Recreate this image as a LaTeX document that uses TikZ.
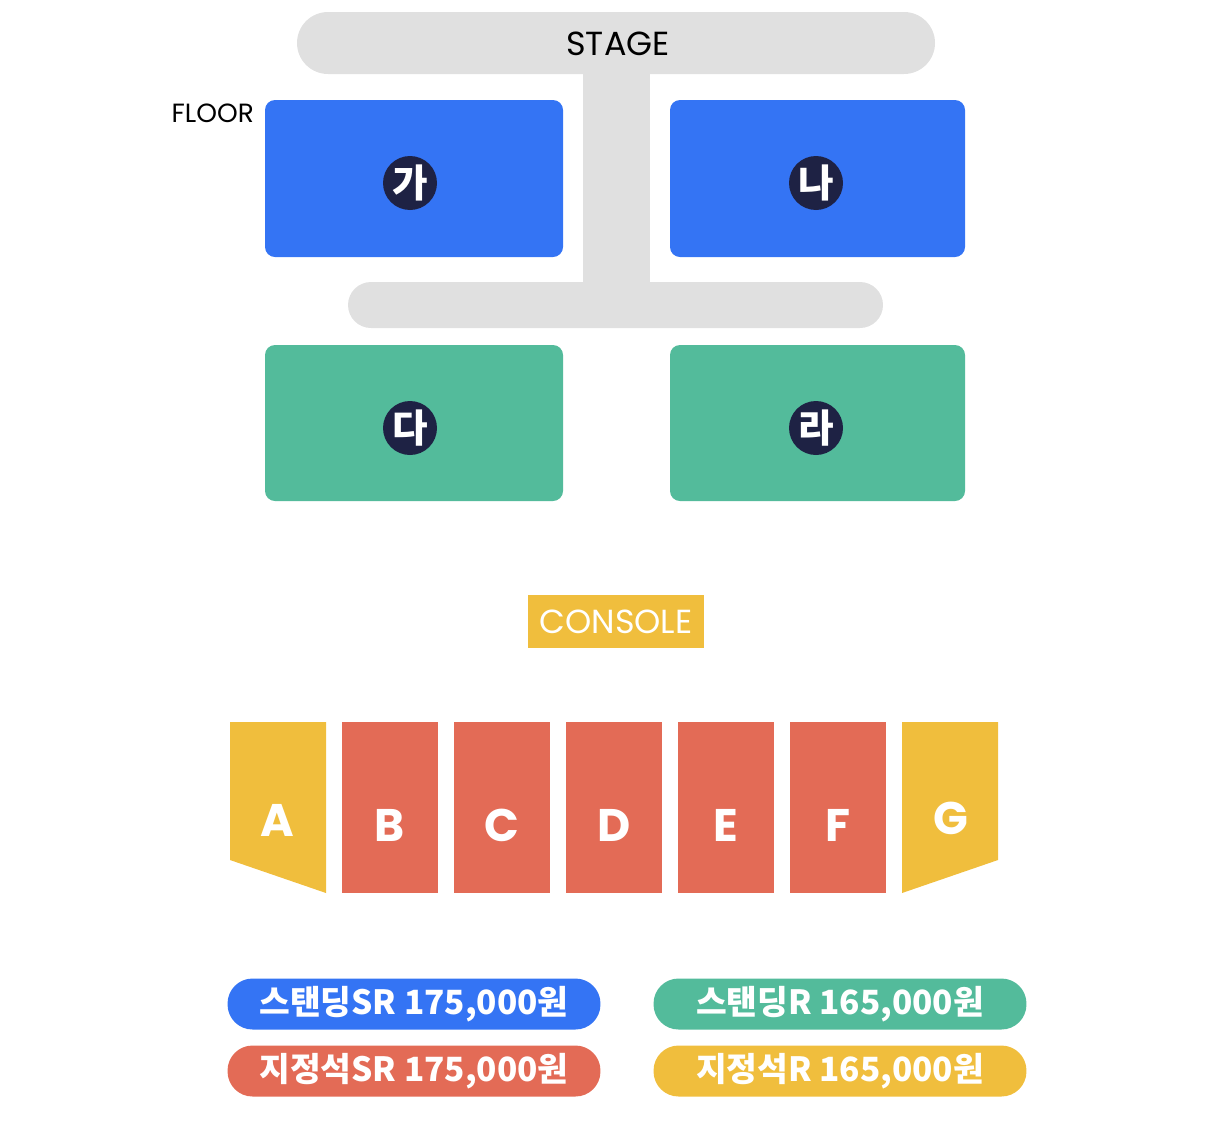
\documentclass[tikz,border=0pt]{standalone}
\usepackage{fontspec}
\setmainfont{Poppins}
\newfontfamily\kor{Noto Sans CJK KR}
\definecolor{stagegray}{HTML}{E0E0E0}
\definecolor{floorblue}{HTML}{3474F4}
\definecolor{floorgreen}{HTML}{53BB9B}
\definecolor{navy}{HTML}{1E2244}
\definecolor{seatred}{HTML}{E36B56}
\definecolor{seatyellow}{HTML}{F0BE3D}
\begin{document}
\begin{tikzpicture}[x=0.02cm,y=-0.02cm,
    block/.style={rounded corners=0.2cm},
    badge/.style={circle,fill=navy,minimum size=1.08cm,inner sep=0pt,text=white,font=\kor\bfseries\fontsize{22}{22}\selectfont},
    seat/.style={font=\bfseries\fontsize{26}{26}\selectfont,text=white},
    price/.style={rounded corners=0.5cm,minimum width=7.46cm,minimum height=1.02cm,text=white,font=\kor\bfseries\fontsize{19}{19}\selectfont}]
  \useasboundingbox (0,0) rectangle (1226,1140);
  % stage
  \fill[stagegray,rounded corners=0.62cm] (297,12) rectangle (935,74);
  \fill[stagegray] (583,60) rectangle (650,295);
  \fill[stagegray,rounded corners=0.46cm] (348,282) rectangle (883,328);
  \node (stage) at (618,44) {\fontsize{19}{19}\selectfont STAGE};
  \node[anchor=east] (floor) at (260,113) {\fontsize{15}{15}\selectfont FLOOR};
  % floor blocks
  \fill[floorblue,block] (265,100) rectangle (563,257);
  \fill[floorblue,block] (670,100) rectangle (965,257);
  \fill[floorgreen,block] (265,345) rectangle (563,501);
  \fill[floorgreen,block] (670,345) rectangle (965,501);
  \node[badge] (ga) at (410,183) {가};
  \node[badge] (na) at (816,183) {나};
  \node[badge] (da) at (410,428) {다};
  \node[badge] (ra) at (816,428) {라};
  % console
  \fill[seatyellow] (528,595) rectangle (704,648);
  \node[text=white] (console) at (616,622) {\fontsize{19}{19}\selectfont CONSOLE};
  % seats
  \fill[seatyellow] (230,722) -- (326,722) -- (326,893) -- (230,860) -- cycle;
  \fill[seatyellow] (902,722) -- (998,722) -- (998,860) -- (902,893) -- cycle;
  \node[seat] (A) at (277,820) {A};
  \node[seat] (G) at (951,818) {G};
  \foreach \x/\l in {342/B,454/C,566/D,678/E,790/F}{
    \fill[seatred] (\x,722) rectangle (\x+96,893);
    \node[seat] (\l) at (\x+48,825) {\l};
  }
  % prices
  \node[price,fill=floorblue] (p1) at (414,1004) {스탠딩SR 175,000원};
  \node[price,fill=floorgreen] (p2) at (840,1004) {스탠딩R 165,000원};
  \node[price,fill=seatred] (p3) at (414,1071) {지정석SR 175,000원};
  \node[price,fill=seatyellow] (p4) at (840,1071) {지정석R 165,000원};
\end{tikzpicture}
\end{document}
